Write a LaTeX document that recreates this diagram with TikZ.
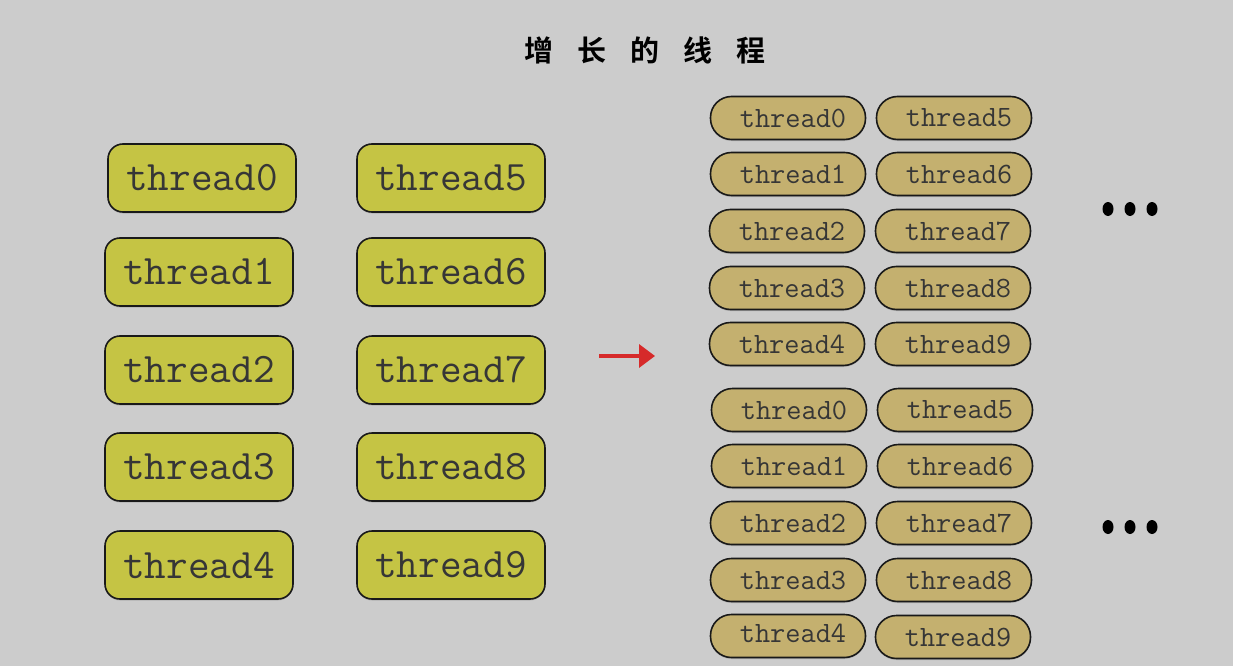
\documentclass[tikz,border=0pt]{standalone}
\usepackage{fontspec}
\newfontfamily\cjk{Noto Sans CJK SC}[BoldFont={Noto Sans CJK SC Bold}]
\usetikzlibrary{shadows,arrows.meta,shapes.geometric}
\definecolor{bg}{HTML}{CCCCCC}
\definecolor{olive}{HTML}{C5C444}
\definecolor{tan}{HTML}{C4B06F}
\definecolor{txt}{HTML}{363636}
\definecolor{redarr}{HTML}{D62A2A}
\tikzset{
  bigbox/.style={draw=black!90, line width=1.6pt, fill=olive, rounded corners=15pt,
    minimum width=188pt, minimum height=68pt, inner sep=0pt,
    font=\ttfamily\fontsize{42}{42}\selectfont, text=txt,
    drop shadow={opacity=0.35, shadow xshift=0pt, shadow yshift=-1.5pt}},
  smallbox/.style={draw=black!90, line width=1.6pt, fill=tan, rounded corners=21pt,
    minimum width=155pt, minimum height=43pt, inner sep=0pt,
    font=\ttfamily\fontsize{29.5}{29.5}\selectfont, text=txt,
    drop shadow={opacity=0.35, shadow xshift=0pt, shadow yshift=-1.5pt}},
  dot/.style={ellipse, fill=black, minimum width=11pt, minimum height=14pt, inner sep=0pt},
}
\newcommand\sh[1]{\hspace*{10pt}#1}
\begin{document}
\begin{tikzpicture}[x=1pt,y=-1pt]
\fill[bg] (0,0) rectangle (1233,666);
\useasboundingbox (0,0) rectangle (1233,666);
\node[font=\cjk\bfseries\fontsize{29}{29}\selectfont] (title) at (645,50) {增\hspace{24pt}长\hspace{24pt}的\hspace{24pt}线\hspace{24pt}程};
% left big boxes
\node[bigbox] (L0) at (202,178) {thread0};
\node[bigbox] (L1) at (199,272) {thread1};
\node[bigbox] (L2) at (199,370) {thread2};
\node[bigbox] (L3) at (199,467) {thread3};
\node[bigbox] (L4) at (199,565) {thread4};
\node[bigbox] (L5) at (451,178) {thread5};
\node[bigbox] (L6) at (451,272) {thread6};
\node[bigbox] (L7) at (451,370) {thread7};
\node[bigbox] (L8) at (451,467) {thread8};
\node[bigbox] (L9) at (451,565) {thread9};
% arrow
\coordinate (a1) at (599,356);
\coordinate (a2) at (655,356);
\draw[redarr, line width=3.5pt, -{Triangle[length=16pt,width=23pt]}] (a1) -- (a2);
% right group 1
\node[smallbox] (A0) at (788,118) {\sh{thread0}};
\node[smallbox] (A1) at (788,174) {\sh{thread1}};
\node[smallbox] (A2) at (787,231) {\sh{thread2}};
\node[smallbox] (A3) at (787,288) {\sh{thread3}};
\node[smallbox] (A4) at (787,344) {\sh{thread4}};
\node[smallbox] (A5) at (954,118) {\sh{thread5}};
\node[smallbox] (A6) at (954,174) {\sh{thread6}};
\node[smallbox] (A7) at (953,231) {\sh{thread7}};
\node[smallbox] (A8) at (953,288) {\sh{thread8}};
\node[smallbox] (A9) at (953,344) {\sh{thread9}};
% right group 2
\node[smallbox] (B0) at (789,410) {\sh{thread0}};
\node[smallbox] (B1) at (789,466) {\sh{thread1}};
\node[smallbox] (B2) at (788,523) {\sh{thread2}};
\node[smallbox] (B3) at (788,580) {\sh{thread3}};
\node[smallbox, text depth=6pt] (B4) at (788,636) {\sh{thread4}};
\node[smallbox] (B5) at (955,410) {\sh{thread5}};
\node[smallbox] (B6) at (955,466) {\sh{thread6}};
\node[smallbox] (B7) at (954,523) {\sh{thread7}};
\node[smallbox] (B8) at (954,580) {\sh{thread8}};
\node[smallbox] (B9) at (953,637) {\sh{thread9}};
% dots
\node[dot] (d1) at (1108,209) {};
\node[dot] (d2) at (1130,209) {};
\node[dot] (d3) at (1152,209) {};
\node[dot] (d4) at (1108,527) {};
\node[dot] (d5) at (1130,527) {};
\node[dot] (d6) at (1152,527) {};
\end{tikzpicture}
\end{document}
